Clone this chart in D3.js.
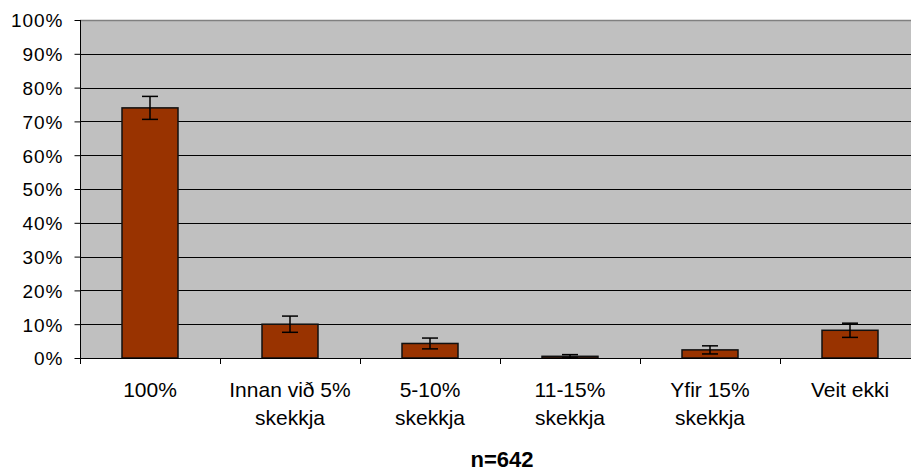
<!DOCTYPE html>
<meta charset="utf-8">
<style>
body { margin: 0; background: #fff; }
text { font-family: "Liberation Sans", Arial, sans-serif; fill: #000; }
</style>
<svg width="911" height="474"></svg>
<script src="https://d3js.org/d3.v7.min.js"></script>
<script>
// data
var categories = ["100%", "Innan við 5%|skekkja", "5-10%|skekkja", "11-15%|skekkja", "Yfir 15%|skekkja", "Veit ekki"];
var values = [74.0, 10.0, 4.3, 0.5, 2.4, 8.2];
var errors = [3.4, 2.4, 1.6, 0.5, 1.2, 2.1];
var yTicks = [0, 10, 20, 30, 40, 50, 60, 70, 80, 90, 100];
var note = "n=642";

var svg = d3.select("svg");
var m = { left: 80, right: 920, top: 20, bottom: 358 };

var x = d3.scaleBand().domain(categories).range([m.left, m.right]).paddingInner(0.6).paddingOuter(0.3);
var xb = d3.scaleBand().domain(categories).range([m.left, m.right]);
var y = d3.scaleLinear().domain([0, 100]).range([m.bottom, m.top]);

svg.append("rect")
    .attr("x", m.left).attr("y", m.top)
    .attr("width", m.right - m.left).attr("height", m.bottom - m.top)
    .attr("fill", "#c0c0c0");

// top border
svg.append("line")
    .attr("x1", m.left).attr("x2", m.right)
    .attr("y1", m.top + 0.5).attr("y2", m.top + 0.5)
    .attr("stroke", "#808080").attr("stroke-width", 1.5);

// gridlines
svg.append("g").selectAll("line")
    .data(yTicks.filter(function(d) { return d > 0 && d < 100; }))
    .enter().append("line")
      .attr("x1", m.left).attr("x2", m.right)
      .attr("y1", function(d) { return Math.round(y(d)) + 0.5; })
      .attr("y2", function(d) { return Math.round(y(d)) + 0.5; })
      .attr("stroke", "#000").attr("stroke-width", 1);

// bars
svg.append("g").selectAll("rect")
    .data(values)
    .enter().append("rect")
      .attr("x", function(d, i) { return x(categories[i]); })
      .attr("y", function(d) { return y(d); })
      .attr("width", x.bandwidth())
      .attr("height", function(d) { return m.bottom - y(d); })
      .attr("fill", "#993300")
      .attr("stroke", "#111").attr("stroke-width", 1.5);

// error bars
var eb = svg.append("g").selectAll("g")
    .data(values)
    .enter().append("g")
      .attr("transform", function(d, i) { return "translate(" + (x(categories[i]) + x.bandwidth() / 2) + ",0)"; });
eb.append("line")
    .attr("y1", function(d, i) { return y(d + errors[i]); })
    .attr("y2", function(d, i) { return y(Math.max(0, d - errors[i])); })
    .attr("stroke", "#000").attr("stroke-width", 1.5);
eb.append("line")
    .attr("x1", -8).attr("x2", 8)
    .attr("y1", function(d, i) { return y(d + errors[i]); })
    .attr("y2", function(d, i) { return y(d + errors[i]); })
    .attr("stroke", "#000").attr("stroke-width", 1.5);
eb.append("line")
    .attr("x1", -8).attr("x2", 8)
    .attr("y1", function(d, i) { return y(Math.max(0, d - errors[i])); })
    .attr("y2", function(d, i) { return y(Math.max(0, d - errors[i])); })
    .attr("stroke", "#000").attr("stroke-width", 1.5);

// y axis
var yAxis = svg.append("g")
    .attr("transform", "translate(" + (m.left + 0.5) + ",0)")
    .call(d3.axisLeft(y).tickValues(yTicks).tickSize(6).tickPadding(11)
      .tickFormat(function(d) { return d + "%"; }));
yAxis.select(".domain").attr("stroke", "#000").attr("d", "M0," + m.bottom + "V" + m.top);
yAxis.selectAll("line").attr("stroke", "#000");
yAxis.selectAll("text")
    .style("font-size", "19px").style("letter-spacing", "1px")
    .attr("font-family", null).attr("fill", "#000").attr("dy", "0.36em");

// x axis
svg.append("line")
    .attr("x1", m.left).attr("x2", m.right)
    .attr("y1", m.bottom + 0.5).attr("y2", m.bottom + 0.5)
    .attr("stroke", "#000");
svg.append("g").selectAll("line")
    .data(categories.concat(["end"]))
    .enter().append("line")
      .attr("x1", function(d, i) { return Math.round(m.left + i * xb.bandwidth()) + 0.5; })
      .attr("x2", function(d, i) { return Math.round(m.left + i * xb.bandwidth()) + 0.5; })
      .attr("y1", m.bottom).attr("y2", m.bottom + 6)
      .attr("stroke", "#000");

var labels = svg.append("g").selectAll("text")
    .data(categories)
    .enter().append("text")
      .attr("x", function(d) { return xb(d) + xb.bandwidth() / 2; })
      .attr("y", 397)
      .attr("text-anchor", "middle")
      .style("font-size", "21px");
labels.selectAll("tspan")
    .data(function(d) { return d.split("|"); })
    .enter().append("tspan")
      .attr("x", function() { return d3.select(this.parentNode).attr("x"); })
      .attr("dy", function(d, i) { return i === 0 ? 0 : 28; })
      .text(function(d) { return d; });

svg.append("text")
    .attr("x", 502)
    .attr("y", 467)
    .attr("text-anchor", "middle")
    .style("font-size", "22px")
    .style("font-weight", "bold")
    .text(note);
</script>
